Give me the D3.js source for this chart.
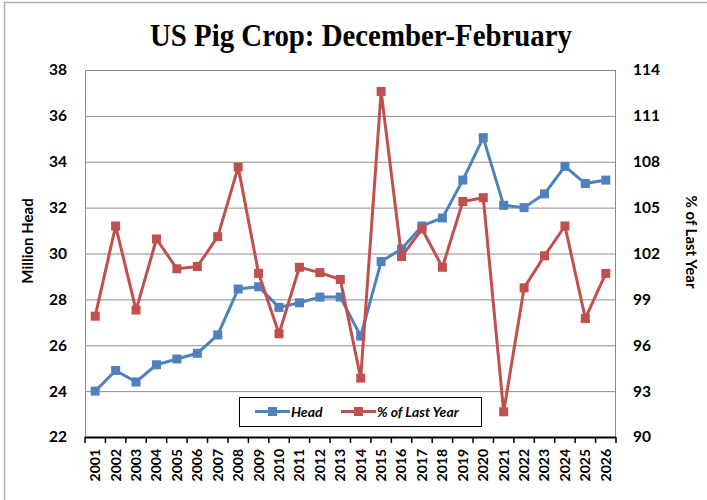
<!DOCTYPE html>
<html>
<head>
<meta charset="utf-8">
<script src="https://cdn.jsdelivr.net/npm/d3@7"></script>
<style>
    body { margin: 0; background: #fff; }
    svg { display: block; }
</style>
</head>
<body>
<div id="chart"></div>
<script>
var years = ['2001', '2002', '2003', '2004', '2005', '2006', '2007', '2008', '2009',
    '2010', '2011', '2012', '2013', '2014', '2015', '2016', '2017', '2018', '2019',
    '2020', '2021', '2022', '2023', '2024', '2025', '2026'];

// million head
var head = [24.0, 24.9, 24.4, 25.15, 25.4, 25.65, 26.45, 28.45, 28.55, 27.65, 27.85,
    28.1, 28.1, 26.4, 29.65, 30.2, 31.2, 31.55, 33.2, 35.05, 32.1, 32.0, 32.6,
    33.8, 33.05, 33.2];

// percent of last year
var pctLastYear = [97.9, 103.8, 98.3, 102.95, 101.0, 101.15, 103.1, 107.65, 100.7,
    96.75, 101.1, 100.75, 100.3, 93.85, 112.6, 101.8, 103.6, 101.1, 105.4, 105.65,
    91.65, 99.75, 101.85, 103.8, 97.75, 100.7];

var leftTicks = [22, 24, 26, 28, 30, 32, 34, 36, 38];
var rightTicks = [90, 93, 96, 99, 102, 105, 108, 111, 114];

var W = 707, H = 500;
var plot = { left: 85, right: 616, top: 70, bottom: 437 };
var blue = '#4f81bd', red = '#c0504d';
var font = 'Lato, "Open Sans", sans-serif';

var svg = d3.select('#chart').append('svg')
    .attr('width', W)
    .attr('height', H);

svg.append('rect')
    .attr('x', 4.5).attr('y', 2.5)
    .attr('width', W + 10).attr('height', H + 10)
    .attr('fill', '#fff')
    .attr('stroke', '#b0b0b0')
    .attr('stroke-width', 1.5);

var x = d3.scaleBand()
    .domain(years)
    .range([plot.left, plot.right]);

var yL = d3.scaleLinear().domain([22, 38]).range([plot.bottom, plot.top]);
var yR = d3.scaleLinear().domain([90, 114]).range([plot.bottom, plot.top]);

// gridlines
svg.append('g')
    .selectAll('line')
    .data(leftTicks)
    .enter().append('line')
    .attr('x1', plot.left).attr('x2', plot.right)
    .attr('y1', function(d) { return yL(d) + 0.5; })
    .attr('y2', function(d) { return yL(d) + 0.5; })
    .attr('stroke', '#8c8c8c')
    .attr('stroke-width', 1);

// plot border sides
svg.append('line')
    .attr('x1', plot.left + 0.5).attr('x2', plot.left + 0.5)
    .attr('y1', plot.top).attr('y2', plot.bottom)
    .attr('stroke', '#8c8c8c');
svg.append('line')
    .attr('x1', plot.right - 0.5).attr('x2', plot.right - 0.5)
    .attr('y1', plot.top).attr('y2', plot.bottom)
    .attr('stroke', '#8c8c8c');

// x axis
var xAxis = d3.axisBottom(x).tickSize(0).tickFormat(function(d) { return d; });
var gx = svg.append('g')
    .attr('transform', 'translate(0,' + plot.bottom + ')')
    .call(xAxis);
gx.select('.domain').remove();
gx.selectAll('text')
    .attr('transform', 'rotate(-90)')
    .attr('text-anchor', 'end')
    .attr('dy', '0.35em')
    .attr('x', -12)
    .attr('y', 0)
    .style('font-family', font)
    .style('font-weight', 'bold')
    .style('font-size', '14px')
    .attr('fill', '#000');

var tickXs = years.map(function(d) { return x(d); }).concat([plot.right]);
gx.selectAll('line.tk')
    .data(tickXs)
    .enter().append('line')
    .attr('class', 'tk')
    .attr('x1', function(d) { return d; })
    .attr('x2', function(d) { return d; })
    .attr('y1', 0).attr('y2', 6)
    .attr('stroke', '#000')
    .attr('stroke-width', 1.5);
gx.append('line')
    .attr('x1', plot.left).attr('x2', plot.right)
    .attr('y1', 0.5).attr('y2', 0.5)
    .attr('stroke', '#000')
    .attr('stroke-width', 2);

// left axis
var gl = svg.append('g')
    .attr('transform', 'translate(' + plot.left + ',0)')
    .call(d3.axisLeft(yL).tickValues(leftTicks).tickSize(0).tickPadding(18));
gl.select('.domain').remove();
gl.selectAll('text')
    .style('font-family', font)
    .style('font-weight', 'bold')
    .style('font-size', '15.5px')
    .attr('fill', '#000');

// right axis
var gr = svg.append('g')
    .attr('transform', 'translate(' + plot.right + ',0)')
    .call(d3.axisRight(yR).tickValues(rightTicks).tickSize(0).tickPadding(17));
gr.select('.domain').remove();
gr.selectAll('text')
    .style('font-family', font)
    .style('font-weight', 'bold')
    .style('font-size', '15.5px')
    .attr('fill', '#000');

// axis titles
svg.append('text')
    .attr('transform', 'translate(33,241) rotate(-90)')
    .attr('text-anchor', 'middle')
    .style('font-family', font)
    .style('font-weight', 'bold')
    .style('font-size', '15px')
    .text('Million Head');

svg.append('text')
    .attr('transform', 'translate(686,242) rotate(90)')
    .attr('text-anchor', 'middle')
    .style('font-family', font)
    .style('font-weight', 'bold')
    .style('font-size', '15px')
    .text('% of Last Year');

// title
svg.append('text')
    .attr('x', 361).attr('y', 46)
    .attr('text-anchor', 'middle')
    .attr('textLength', 422)
    .attr('lengthAdjust', 'spacingAndGlyphs')
    .style('font-family', '"Liberation Serif", serif')
    .style('font-weight', 'bold')
    .style('font-size', '32px')
    .text('US Pig Crop: December-February');

function cx(d, i) { return x(years[i]) + x.bandwidth() / 2; }

function drawSeries(values, yScale, color) {
    var line = d3.line()
        .x(cx)
        .y(function(d) { return yScale(d); });
    var g = svg.append('g');
    g.append('path')
        .datum(values)
        .attr('d', line)
        .attr('fill', 'none')
        .attr('stroke', color)
        .attr('stroke-width', 3)
        .attr('stroke-linejoin', 'round');
    g.selectAll('rect')
        .data(values)
        .enter().append('rect')
        .attr('x', function(d, i) { return cx(d, i) - 4.5; })
        .attr('y', function(d) { return yScale(d) - 4.5; })
        .attr('width', 9).attr('height', 9)
        .attr('fill', color);
}

drawSeries(head, yL, blue);
drawSeries(pctLastYear, yR, red);

// legend
var lg = svg.append('g').attr('transform', 'translate(239,397)');
lg.append('rect')
    .attr('x', 0.5).attr('y', 0.5)
    .attr('width', 242).attr('height', 29)
    .attr('fill', '#fff')
    .attr('stroke', '#000')
    .attr('stroke-width', 1);

var legendItems = [
    { name: 'Head', color: blue, x0: 16 },
    { name: '% of Last Year', color: red, x0: 102 }
];
legendItems.forEach(function(it) {
    lg.append('line')
        .attr('x1', it.x0).attr('x2', it.x0 + 35)
        .attr('y1', 14.5).attr('y2', 14.5)
        .attr('stroke', it.color)
        .attr('stroke-width', 3);
    lg.append('rect')
        .attr('x', it.x0 + 13).attr('y', 10)
        .attr('width', 9).attr('height', 9)
        .attr('fill', it.color);
    lg.append('text')
        .attr('x', it.x0 + 36).attr('y', 19.5)
        .style('font-family', font)
        .style('font-weight', 'bold')
        .style('font-style', 'italic')
        .style('font-size', '14px')
        .text(it.name);
});
</script>
</body>
</html>
